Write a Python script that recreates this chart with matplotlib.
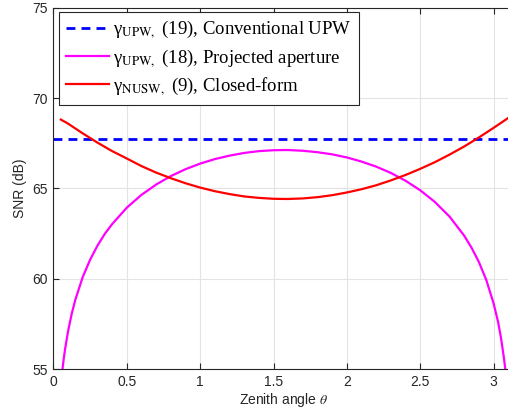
import numpy as np
import matplotlib
matplotlib.use("Agg")
import matplotlib.pyplot as plt

# values
theta_conv = [0.0, 3.2]
snr_conv = [67.72, 67.72]

theta_proj = [0.05, 0.06, 0.07, 0.08, 0.1, 0.125, 0.15, 0.2, 0.25, 0.3, 0.35, 0.4,
              0.5, 0.6, 0.7, 0.8, 0.9, 1.0, 1.1, 1.2, 1.3, 1.4, 1.5, 1.5708,
              1.6, 1.7, 1.8, 1.9, 2.0, 2.1, 2.2, 2.3, 2.4, 2.5, 2.6, 2.7, 2.8,
              2.85, 2.9, 2.95, 3.0, 3.03, 3.05, 3.07, 3.08, 3.09]
snr_proj = [54.12, 54.91, 55.58, 56.16, 57.12, 58.09, 58.87, 60.11, 61.06, 61.84, 62.49, 63.03,
            63.94, 64.65, 65.22, 65.69, 66.07, 66.38, 66.63, 66.82, 66.97, 67.07, 67.12, 67.13,
            67.13, 67.09, 67.01, 66.89, 66.72, 66.49, 66.21, 65.86, 65.43, 64.90, 64.25, 63.44, 62.38,
            61.71, 60.92, 59.93, 58.63, 57.62, 56.74, 55.62, 54.96, 54.26]

theta_nusw = [0.05, 0.1, 0.2, 0.3, 0.4, 0.5, 0.6, 0.7, 0.8, 0.9, 1.0, 1.1, 1.2, 1.3,
              1.4, 1.5, 1.5708, 1.6, 1.7, 1.8, 1.9, 2.0, 2.1, 2.2, 2.3, 2.4, 2.5,
              2.6, 2.7, 2.8, 2.9, 3.0, 3.1]
snr_nusw = [68.82, 68.59, 68.05, 67.54, 67.07, 66.66, 66.24, 65.88, 65.57, 65.29, 65.05, 64.85, 64.69, 64.56,
            64.48, 64.43, 64.42, 64.42, 64.45, 64.52, 64.63, 64.78, 64.96, 65.18, 65.45, 65.75, 66.09,
            66.46, 66.88, 67.33, 67.83, 68.36, 68.91]

labels = [r'γ$_{\mathrm{UPW},}$ (19), Conventional UPW',
          r'γ$_{\mathrm{UPW},}$ (18), Projected aperture',
          r'γ$_{\mathrm{NUSW},}$ (9), Closed-form']

plt.rcParams['font.family'] = ['Liberation Sans', 'DejaVu Sans']
plt.rcParams['mathtext.fontset'] = 'stix'

fig = plt.figure(figsize=(5.08, 4.18), dpi=100)
ax = fig.add_axes([0.1053, 0.1172, 0.9073, 0.8637])

ax.plot(theta_conv, snr_conv, '--', color='#0000ff', lw=2, dashes=(3.2, 2.2), label=labels[0])
ax.plot(theta_proj, snr_proj, '-', color='#ff00ff', lw=1.6, label=labels[1])
ax.plot(theta_nusw, snr_nusw, '-', color='#ff0000', lw=1.6, label=labels[2])

ax.set_xlim(0, np.pi)
ax.set_ylim(55, 75)
ax.set_xticks([0, 0.5, 1, 1.5, 2, 2.5, 3])
ax.set_xticklabels(['0', '0.5', '1', '1.5', '2', '2.5', '3'])
ax.set_yticks([55, 60, 65, 70, 75])
ax.grid(True, color='#e3e3e3', lw=0.8)
ax.set_axisbelow(True)
for s in ax.spines.values():
    s.set_color('#262626')
    s.set_linewidth(0.8)
ax.tick_params(direction='in', top=True, right=True, colors='#262626',
               labelsize=10, length=4, width=0.8, pad=4)
ax.set_xlabel(r'Zenith angle $\theta$', fontsize=10, color='#262626', labelpad=2)
ax.set_ylabel('SNR (dB)', fontsize=10, color='#262626', labelpad=4)

leg = ax.legend(loc='upper left', bbox_to_anchor=(0.011, 0.989),
                prop={'family': ['Liberation Serif', 'DejaVu Serif'], 'size': 13.5},
                frameon=True, fancybox=False, framealpha=1, edgecolor='#262626',
                handlelength=2.3, handletextpad=0.2, borderpad=0.4, labelspacing=0.32,
                borderaxespad=0.0)
leg.get_frame().set_linewidth(0.8)

fig.savefig('out.png', dpi=100)
